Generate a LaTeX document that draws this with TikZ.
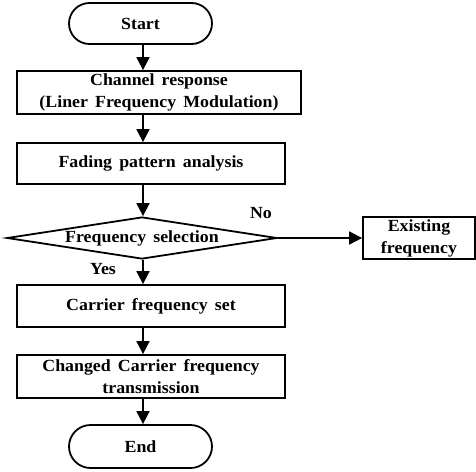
\documentclass[tikz,border=0pt]{standalone}
\usepackage{fontspec}
\setmainfont[FakeStretch=1.05,WordSpace=1.6]{Liberation Serif}
\usetikzlibrary{shapes.geometric,shapes.misc,arrows.meta}
\begin{document}
\begin{tikzpicture}[x=1pt,y=-1pt,
  every node/.style={font=\fontsize{17}{22}\selectfont\bfseries, text=black},
  box/.style={draw, line width=1.8pt, rectangle, inner sep=0pt, align=center},
  term/.style={draw, line width=1.8pt, rounded rectangle, inner sep=0pt},
  dec/.style={draw, line width=1.8pt, diamond, aspect=6.4, inner sep=0pt},
  arr/.style={line width=1.8pt, -{Triangle[width=13pt,length=13pt]}},
  lbl/.style={inner sep=0pt}]
\useasboundingbox (0,0) rectangle (476,471);
\coordinate (col) at (143,0);
\node[term, minimum width=143, minimum height=41] (start) at (140.5,23.5) {Start};
\node[box, minimum width=284, minimum height=43] (b1) at (159,92.5) {Channel response\\(Liner Frequency Modulation)};
\node[box, minimum width=268, minimum height=41] (b2) at (151,163.5) {Fading pattern analysis};
\node[dec, minimum width=270, minimum height=42] (dia) at (142,238) {Frequency selection};
\node[box, minimum width=112, minimum height=42] (ex) at (419,238) {Existing\\frequency};
\node[box, minimum width=268, minimum height=42] (b3) at (151,306) {Carrier frequency set};
\node[box, minimum width=268, minimum height=43] (b4) at (151,376.5) {Changed Carrier frequency\\transmission};
\node[term, minimum width=143, minimum height=43] (end) at (140.5,446.5) {End};
\node[lbl] (no) at (261,213) {No};
\node[lbl] (yes) at (103,269) {Yes};
\draw[arr] (start.south -| col) -- (b1.north -| col);
\draw[arr] (b1.south -| col) -- (b2.north -| col);
\draw[arr] (b2.south -| col) -- (dia.north -| col);
\draw[arr] (dia.south -| col) -- (b3.north -| col);
\draw[arr] (b3.south -| col) -- (b4.north -| col);
\draw[arr] (b4.south -| col) -- (end.north -| col);
\draw[arr] (dia.east) -- (ex.west);
\end{tikzpicture}
\end{document}
